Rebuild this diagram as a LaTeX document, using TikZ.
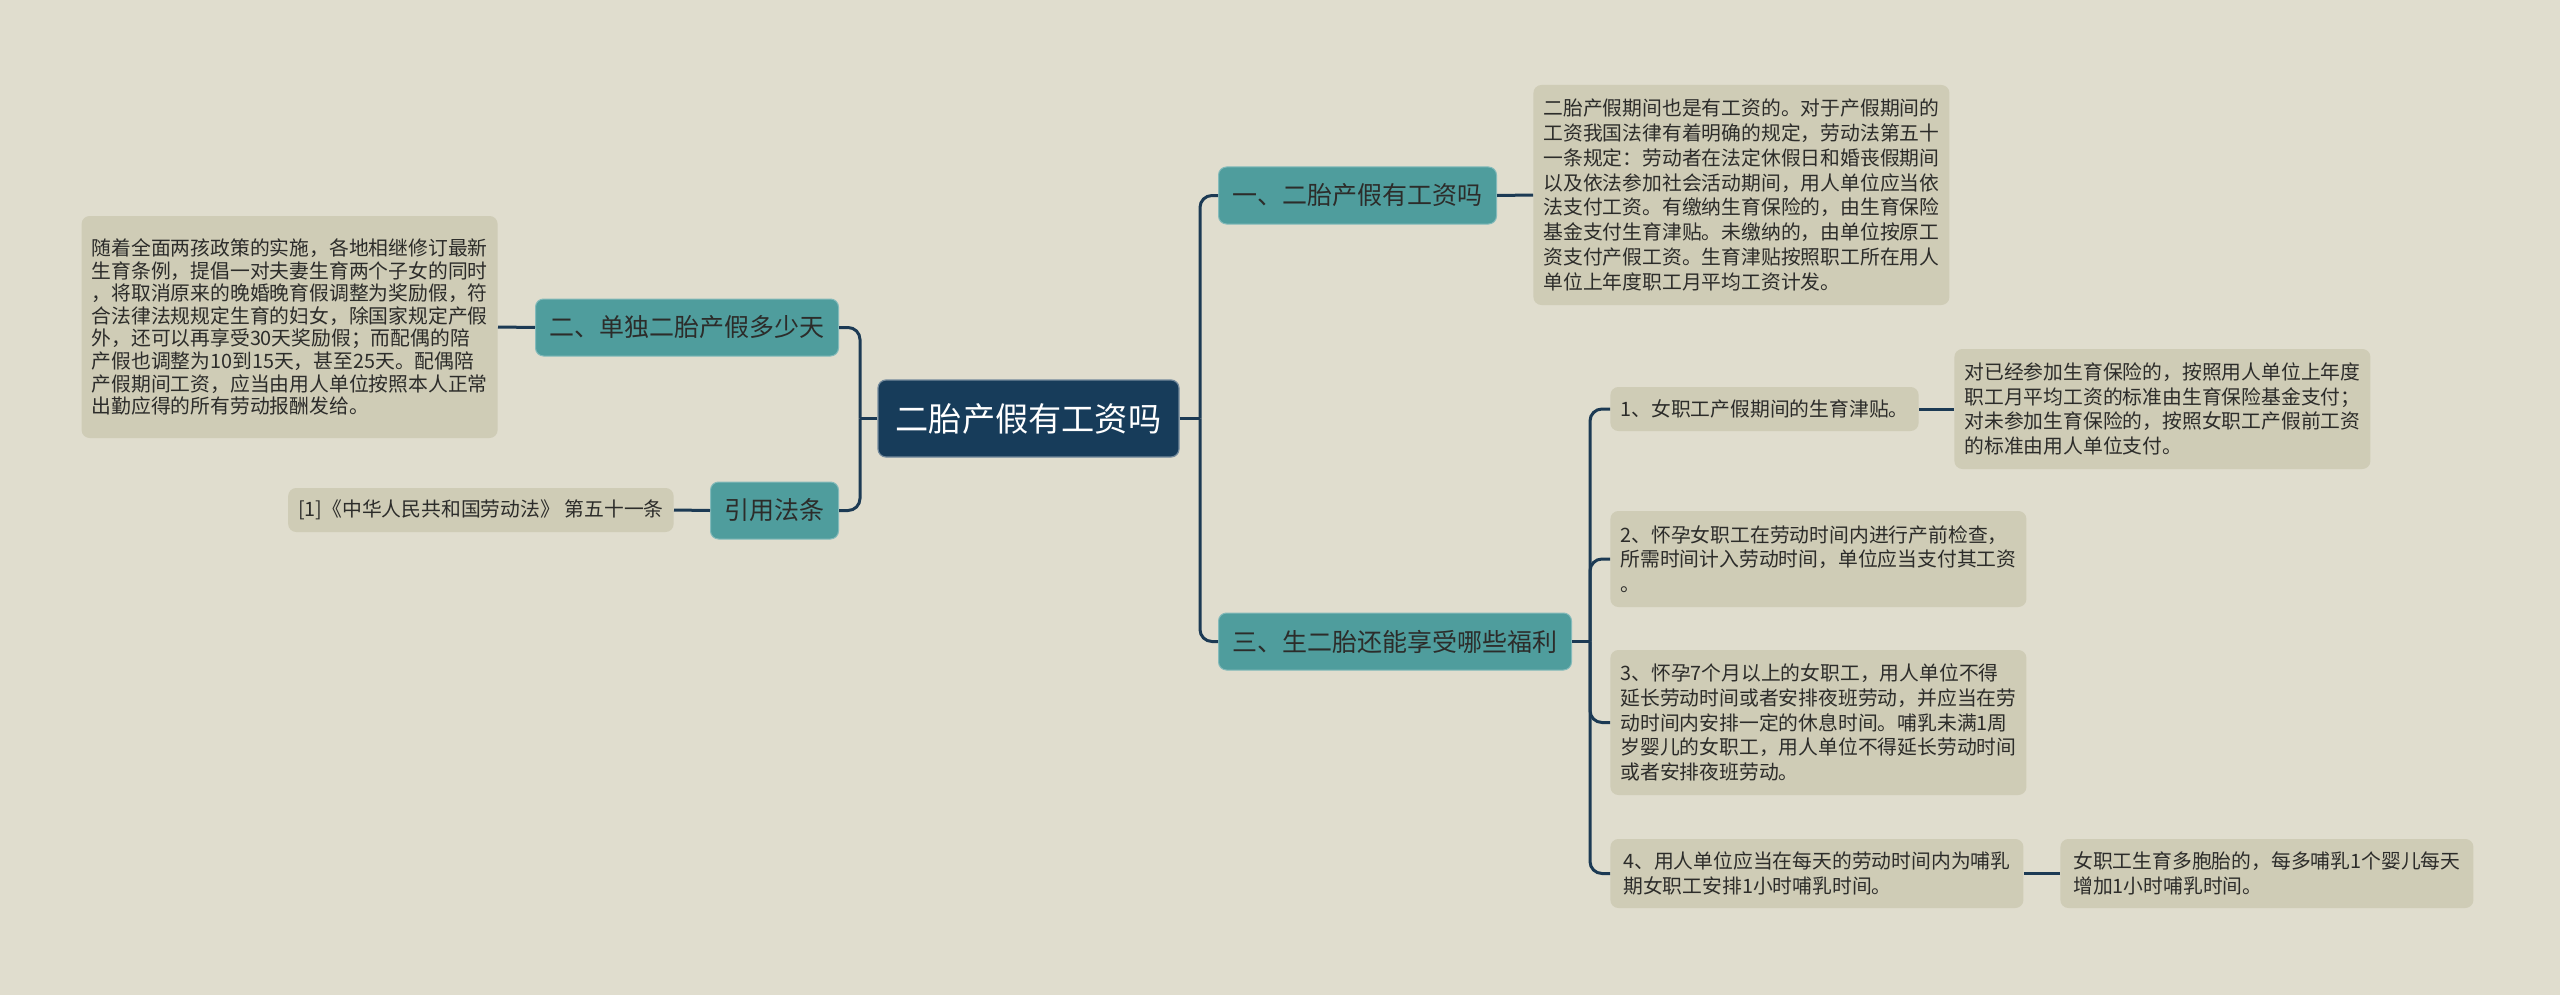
\documentclass[tikz,border=0pt]{standalone}
\usepackage{fontspec}
\setmainfont{Noto Sans CJK SC}
\definecolor{bgc}{HTML}{E0DDCE}
\definecolor{leafc}{HTML}{CFCCB6}
\definecolor{tealc}{HTML}{4F9D9D}
\definecolor{rootc}{HTML}{173C5A}
\definecolor{linec}{HTML}{1C3A54}
\definecolor{txtc}{HTML}{2C2C2A}
\begin{document}
\begin{tikzpicture}[x=0.5pt,y=-0.5pt,
  rootbox/.style={fill=rootc,draw=rootc!60!white,line width=0.6pt,rounded corners=4pt,text=white,
    font=\fontsize{16.6}{20}\selectfont,inner xsep=8pt,minimum height=38.5pt,minimum width=150.5pt},
  lvbox/.style={fill=tealc,draw=tealc!70!white,line width=0.5pt,rounded corners=4pt,text=txtc,
    font=\fontsize{12.5}{15}\selectfont,inner xsep=7pt,minimum height=28.5pt},
  leafbox/.style={fill=leafc,rounded corners=4pt,text=txtc,align=left,
    font=\fontsize{9.9}{12.4}\selectfont,inner xsep=5pt,inner ysep=4pt},
  conn/.style={draw=linec,line width=1.5pt,rounded corners=6pt}]
\useasboundingbox[fill=bgc] (0,0) rectangle (2560,995);

% root
\node[rootbox] (root) at (1028.5,418.5) {二胎产假有工资吗};

% right level 1
\node[lvbox,anchor=west] (n1) at (1218,195.5) {一、二胎产假有工资吗};
\node[lvbox,anchor=west] (n3) at (1218,641.5) {三、生二胎还能享受哪些福利};

% left level 1
\node[lvbox,anchor=east] (n2) at (839,327.5) {二、单独二胎产假多少天};
\node[lvbox,anchor=east] (nref) at (839,510.5) {引用法条};

% leaves
\node[leafbox,anchor=west,minimum width=206.5pt,minimum height=110pt] (leaf1) at (1533,195)
{二胎产假期间也是有工资的。对于产假期间的\\工资我国法律有着明确的规定，劳动法第五十\\一条规定：劳动者在法定休假日和婚丧假期间\\以及依法参加社会活动期间，用人单位应当依\\法支付工资。有缴纳生育保险的，由生育保险\\基金支付生育津贴。未缴纳的，由单位按原工\\资支付产假工资。生育津贴按照职工所在用人\\单位上年度职工月平均工资计发。};

\node[leafbox,anchor=east,minimum width=206.5pt,minimum height=111pt,
  font=\fontsize{9.9}{11.3}\selectfont] (leafL) at (498,327)
{随着全面两孩政策的实施，各地相继修订最新\\生育条例，提倡一对夫妻生育两个子女的同时\\，将取消原来的晚婚晚育假调整为奖励假，符\\合法律法规规定生育的妇女，除国家规定产假\\外，还可以再享受30天奖励假；而配偶的陪\\产假也调整为10到15天，甚至25天。配偶陪\\产假期间工资，应当由用人单位按照本人正常\\出勤应得的所有劳动报酬发给。};

\node[leafbox,anchor=east,minimum width=191.5pt,minimum height=22pt] (refleaf) at (674,510)
{[1]《中华人民共和国劳动法》 第五十一条};

\node[leafbox,anchor=west,minimum width=153.5pt,minimum height=22pt] (s1) at (1610,409)
{1、女职工产假期间的生育津贴。};
\node[leafbox,anchor=west,minimum width=206pt,minimum height=60pt] (s1leaf) at (1954,409)
{对已经参加生育保险的，按照用人单位上年度\\职工月平均工资的标准由生育保险基金支付；\\对未参加生育保险的，按照女职工产假前工资\\的标准由用人单位支付。};

\node[leafbox,anchor=west,minimum width=206.5pt,minimum height=48pt] (s2) at (1610,559)
{2、怀孕女职工在劳动时间内进行产前检查，\\所需时间计入劳动时间，单位应当支付其工资\\。};

\node[leafbox,anchor=west,minimum width=206.5pt,minimum height=72.5pt] (s3) at (1610,722.5)
{3、怀孕7个月以上的女职工，用人单位不得\\延长劳动时间或者安排夜班劳动，并应当在劳\\动时间内安排一定的休息时间。哺乳未满1周\\岁婴儿的女职工，用人单位不得延长劳动时间\\或者安排夜班劳动。};

\node[leafbox,anchor=west,minimum width=206.5pt,minimum height=34.5pt] (s4) at (1610,873.5)
{4、用人单位应当在每天的劳动时间内为哺乳\\期女职工安排1小时哺乳时间。};
\node[leafbox,anchor=west,minimum width=206.5pt,minimum height=34.5pt] (s4leaf) at (2060,873.5)
{女职工生育多胞胎的，每多哺乳1个婴儿每天\\增加1小时哺乳时间。};

% junction coordinates
\coordinate (jR) at (1200,418.5);
\coordinate (jL) at (860,418.5);
\coordinate (j3) at (1590,641.5);

% connectors
\draw[conn] (root.east) -- (jR);
\draw[conn] (jR) |- (n1.west);
\draw[conn] (jR) |- (n3.west);
\draw[conn] (root.west) -- (jL);
\draw[conn] (jL) |- (n2.east);
\draw[conn] (jL) |- (nref.east);
\draw[conn] (n1.east) -- (leaf1.west);
\draw[conn] (n2.west) -- (leafL.east);
\draw[conn] (nref.west) -- (refleaf.east);
\draw[conn] (n3.east) -- (j3);
\draw[conn] (j3) |- (s1.west);
\draw[conn] (j3) |- (s2.west);
\draw[conn] (j3) |- (s3.west);
\draw[conn] (j3) |- (s4.west);
\draw[conn] (s1.east) -- (s1leaf.west);
\draw[conn] (s4.east) -- (s4leaf.west);
\end{tikzpicture}
\end{document}
